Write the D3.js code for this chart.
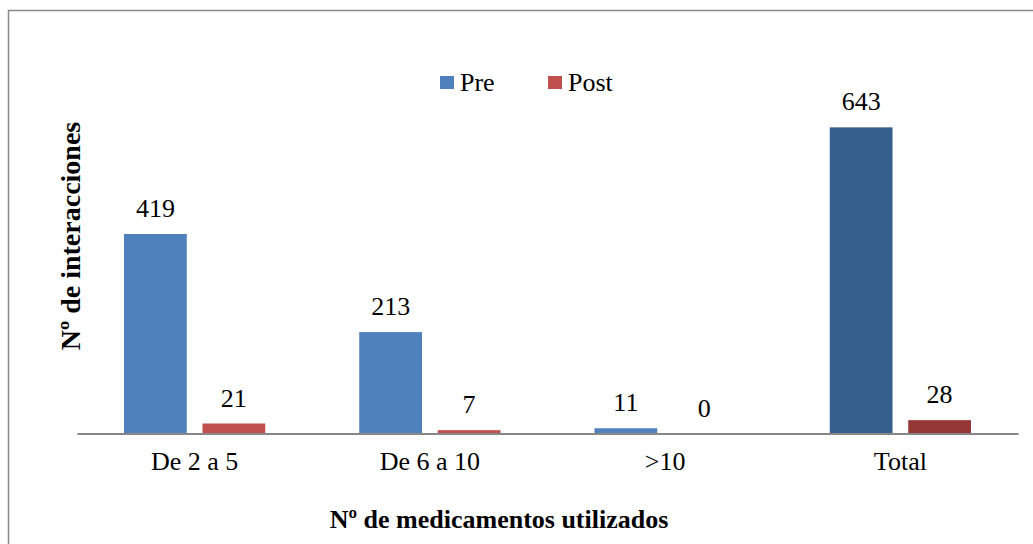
<!DOCTYPE html>
<html>
<head>
<meta charset="utf-8">
<script src="https://cdn.jsdelivr.net/npm/d3@7"></script>
<style>
	body { margin: 0; background: #fff; }
	text { font-family: "Liberation Serif", "Times New Roman", serif; fill: #000; }
</style>
</head>
<body>
<div id="chart-area"></div>
<script>
// Data
let categories = ["De 2 a 5", "De 6 a 10", ">10", "Total"];
let series = ["Pre", "Post"];
let preValues = [419, 213, 11, 643];
let postValues = [21, 7, 0, 28];

let width = 1033,
	height = 544;

let data = categories.map((c, i) => ({
	category: c,
	values: [
		{key: "Pre", value: preValues[i]},
		{key: "Post", value: postValues[i]}
	]
}));

let svg = d3.select("#chart-area").append("svg")
	.attr("width", width)
	.attr("height", height);

// Outer frame (right and bottom edges fall outside the picture)
svg.append("rect")
	.attr("x", 8.5)
	.attr("y", 10.5)
	.attr("width", 1100)
	.attr("height", 600)
	.attr("fill", "none")
	.attr("stroke", "#898989")
	.attr("stroke-width", 1.5);

// Scales
let x0 = d3.scaleBand()
	.domain(categories)
	.range([77, 1018]);

let x1 = d3.scaleBand()
	.domain(series)
	.range([47, x0.bandwidth() - 47])
	.paddingInner(0.2);

let y = d3.scaleLinear()
	.domain([0, 700])
	.range([433.5, 100.2]);

let colors = {Pre: "#4f81bd", Post: "#c0504d"};
let totalColors = {Pre: "#375f8d", Post: "#953735"};

// Bars
let groups = svg.selectAll(".group")
	.data(data)
	.enter()
	.append("g")
	.attr("class", "group")
	.attr("transform", d => "translate(" + x0(d.category) + ",0)");

groups.selectAll("rect")
	.data(d => d.values.map(v => ({...v, category: d.category})))
	.enter()
	.append("rect")
	.attr("x", d => x1(d.key))
	.attr("y", d => y(d.value))
	.attr("width", x1.bandwidth())
	.attr("height", d => y(0) - y(d.value))
	.attr("fill", d => d.category === "Total" ? totalColors[d.key] : colors[d.key]);

// Value labels
groups.selectAll(".label")
	.data(d => d.values)
	.enter()
	.append("text")
	.attr("class", "label")
	.attr("x", d => x1(d.key) + x1.bandwidth() / 2)
	.attr("y", d => y(d.value) - 17)
	.attr("text-anchor", "middle")
	.attr("font-size", 26)
	.text(d => d.value);

// X axis
let xAxis = d3.axisBottom(x0).tickSize(0).tickPadding(18);

let axisG = svg.append("g")
	.attr("transform", "translate(0," + y(0) + ")")
	.call(xAxis);

axisG.select(".domain")
	.attr("stroke", "#878787")
	.attr("stroke-width", 2);

axisG.selectAll(".tick text")
	.attr("font-family", "Liberation Serif, Times New Roman, serif")
	.attr("font-size", 26)
	.attr("fill", "#000");

// Axis titles
svg.append("text")
	.attr("x", 499)
	.attr("y", 528)
	.attr("text-anchor", "middle")
	.attr("font-weight", "bold")
	.attr("font-size", 26)
	.text("Nº de medicamentos utilizados");

svg.append("text")
	.attr("transform", "translate(80,236) rotate(-90)")
	.attr("text-anchor", "middle")
	.attr("font-weight", "bold")
	.attr("font-size", 28)
	.text("Nº de interacciones");

// Legend
let legendX = [440, 548];
let legend = svg.selectAll(".legend")
	.data(series)
	.enter()
	.append("g")
	.attr("class", "legend")
	.attr("transform", (d, i) => "translate(" + legendX[i] + ",76)");

legend.append("rect")
	.attr("width", 14)
	.attr("height", 13)
	.attr("fill", d => colors[d]);

legend.append("text")
	.attr("x", 20)
	.attr("y", 15)
	.attr("font-size", 26)
	.text(d => d);
</script>
</body>
</html>
